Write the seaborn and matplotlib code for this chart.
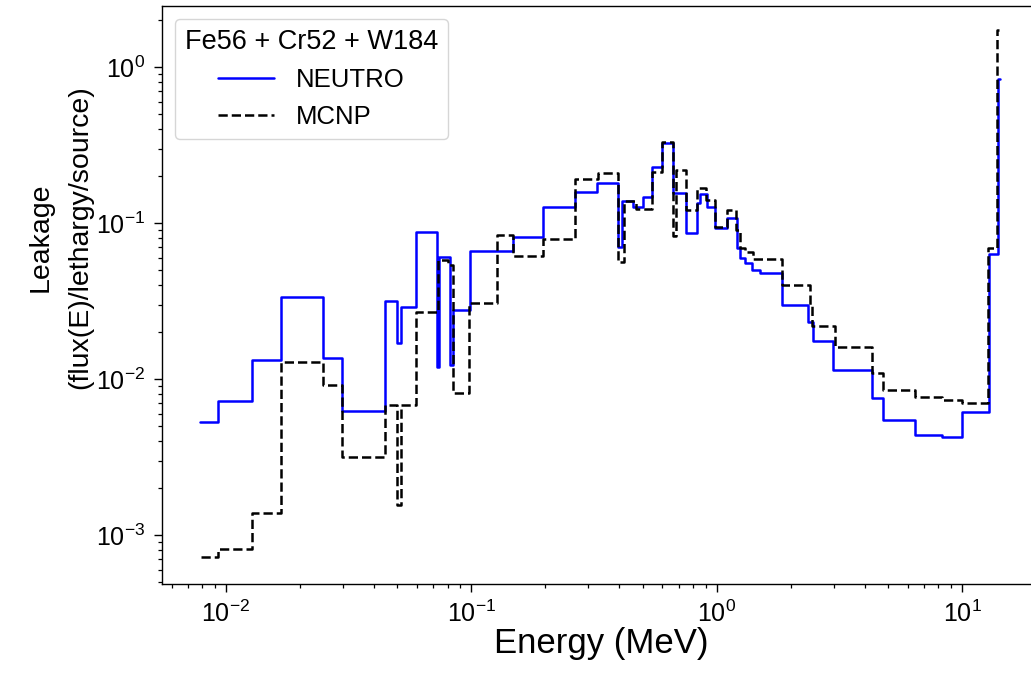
import matplotlib
matplotlib.use("Agg")
import matplotlib.pyplot as plt
import seaborn as sns
import numpy as np
import pandas as pd

# NEUTRO group structure (MeV) and leakage per lethargy
neutro_edges = [0.00783, 0.00932, 0.0128, 0.0168, 0.0249, 0.0297, 0.0446, 0.0497,
                0.0515, 0.0593, 0.0722, 0.0740, 0.0818, 0.0839, 0.0985, 0.148,
                0.196, 0.264, 0.326, 0.397, 0.410, 0.457, 0.502, 0.543, 0.596,
                0.665, 0.749, 0.828, 0.854, 0.909, 0.983, 1.097, 1.205, 1.243,
                1.303, 1.388, 1.500, 1.838, 2.36, 2.46, 2.98, 4.28, 4.77, 6.42,
                8.25, 9.95, 12.9, 14.03, 14.2]
neutro_vals = [5.28e-3, 7.19e-3, 0.01324, 0.0334, 0.01369, 6.26e-3, 0.0318, 0.0171,
               0.0291, 0.0879, 0.0120, 0.0603, 0.0122, 0.0277, 0.0665, 0.0817,
               0.1261, 0.1573, 0.1813, 0.0705, 0.1384, 0.1261, 0.1461, 0.2296,
               0.327, 0.1564, 0.0867, 0.1343, 0.1534, 0.1261, 0.0925, 0.1072,
               0.0688, 0.0594, 0.0552, 0.0500, 0.0480, 0.0297, 0.0233, 0.0176,
               0.01142, 7.52e-3, 5.46e-3, 4.38e-3, 4.27e-3, 6.12e-3, 0.0633, 0.834]

# MCNP tally bins (MeV) and leakage per lethargy
mcnp_edges = [0.0079, 0.00932, 0.0128, 0.0168, 0.0249, 0.0297, 0.0446, 0.0497,
              0.0515, 0.0593, 0.0733, 0.0803, 0.0839, 0.0981, 0.1275, 0.148,
              0.196, 0.264, 0.329, 0.397, 0.419, 0.469, 0.544, 0.596, 0.665,
              0.682, 0.752, 0.828, 0.904, 0.983, 1.097, 1.201, 1.243, 1.303,
              1.409, 1.838, 2.40, 2.443, 3.03, 4.28, 4.742, 6.42, 8.25, 9.95,
              12.78, 13.82, 14.1]
mcnp_vals = [7.26e-4, 8.13e-4, 1.377e-3, 0.0129, 9.15e-3, 3.15e-3, 6.81e-3, 1.557e-3,
             6.81e-3, 0.0270, 0.0579, 0.0538, 8.17e-3, 0.0306, 0.0838, 0.0614,
             0.0786, 0.1906, 0.2101, 0.0565, 0.1384, 0.1224, 0.2123, 0.332,
             0.0825, 0.217, 0.1212, 0.1669, 0.1405, 0.0938, 0.1212, 0.0902,
             0.0691, 0.0652, 0.0585, 0.0398, 0.0298, 0.0219, 0.0161, 0.01088,
             8.50e-3, 7.70e-3, 7.34e-3, 6.99e-3, 0.0688, 1.727]

legend_title = "Fe56 + Cr52 + W184"
series_labels = ["NEUTRO", "MCNP"]

sns.set_style("ticks")
plt.rcParams["font.family"] = ["Liberation Sans", "DejaVu Sans"]
plt.rcParams["mathtext.default"] = "regular"
plt.rcParams["text.color"] = "black"
plt.rcParams["axes.labelcolor"] = "black"
plt.rcParams["xtick.color"] = "black"
plt.rcParams["ytick.color"] = "black"


def step_frame(edges, vals):
    # each bin value is held from its lower edge to the next one
    return pd.DataFrame({"E": edges, "flux": list(vals) + [vals[-1]]})


fig = plt.figure(figsize=(10.31, 6.83), dpi=100)
ax = fig.add_axes([0.1568, 0.145, 0.8519, 0.8463])
ax.set_xscale("log")
ax.set_yscale("log")

sns.lineplot(data=step_frame(neutro_edges, neutro_vals), x="E", y="flux",
             drawstyle="steps-post", color="#0000ff", linewidth=1.8,
             estimator=None, sort=False, label=series_labels[0], ax=ax)
sns.lineplot(data=step_frame(mcnp_edges, mcnp_vals), x="E", y="flux",
             drawstyle="steps-post", color="black", linewidth=1.8,
             linestyle="--", estimator=None, sort=False,
             label=series_labels[1], ax=ax)

ax.set_xlim(10 ** -2.262, 10 ** 1.317)
ax.set_ylim(10 ** -3.314, 10 ** 0.391)

ax.set_xlabel("Energy (MeV)", fontsize=25, labelpad=0)
ax.set_ylabel("Leakage\n(flux(E)/lethargy/source)", fontsize=20.5,
              linespacing=1.7)
ax.yaxis.set_label_coords(-0.0775, 0.60)

ax.tick_params(axis="both", which="major", labelsize=18, length=6, width=1.0,
               direction="out", pad=6)
ax.tick_params(axis="both", which="minor", length=3.2, width=0.9,
               direction="out")
for side in ["left", "bottom", "top", "right"]:
    ax.spines[side].set_linewidth(1.0)
    ax.spines[side].set_color("black")

leg = ax.legend(title=legend_title, loc="upper left", fontsize=18.5,
                title_fontsize=19.5, frameon=True, fancybox=True,
                framealpha=0.8, edgecolor="#cccccc", handlelength=2.2,
                handletextpad=0.85, labelspacing=0.5)

fig.savefig("out.png", dpi=100)
